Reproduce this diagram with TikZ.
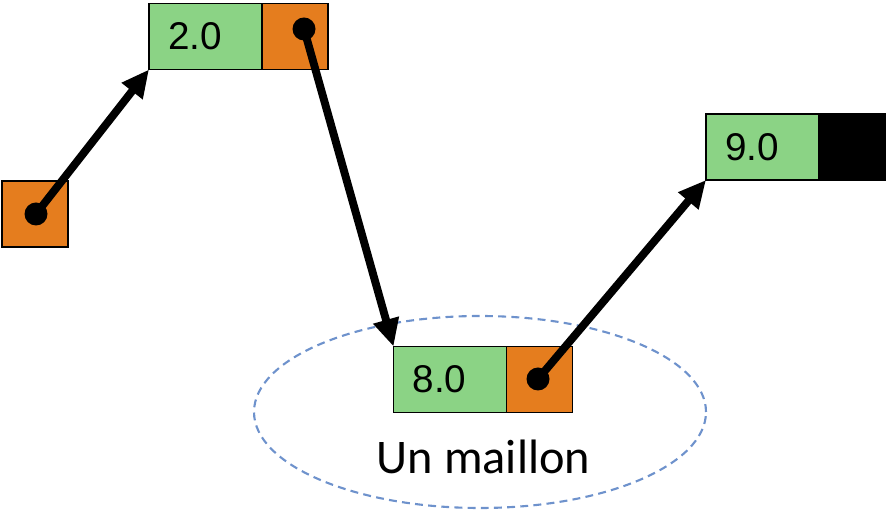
\documentclass[tikz,border=0pt]{standalone}
\usepackage{fontspec}
\setmainfont{Liberation Sans}
\newfontfamily\carlito{Carlito}
\usetikzlibrary{positioning,arrows.meta}

\definecolor{vert}{RGB}{139,211,133}
\definecolor{orangep}{RGB}{229,125,30}
\definecolor{bleup}{RGB}{110,146,204}

\tikzset{
  valeur/.style={draw, line width=0.8pt, fill=vert, outer sep=0pt, text width=1.5cm,
    inner xsep=0.38cm, minimum height=1.32cm, align=left, font=\fontsize{22}{24}\selectfont},
  pointeur/.style={draw, line width=0.8pt, fill=orangep, outer sep=0pt, minimum size=1.32cm},
  fin/.style={pointeur, fill=black},
  point/.style={circle, fill=black, inner sep=0pt, minimum size=0.46cm},
  lien/.style={line width=4.5pt, -{Triangle[length=0.55cm,width=0.5cm]}}
}

\begin{document}
\begin{tikzpicture}
        \useasboundingbox (0,0) rectangle (17.78,10.54);

        % the dashed circle round one link
        \draw[bleup, line width=1.2pt, dash pattern=on 4.5pt off 3pt] (9.60,2.30) ellipse (4.52cm and 1.92cm);
        \node[font=\carlito\fontsize{27.5}{30}\selectfont] (titre) at (9.67,1.40) {Un maillon};

        % the head and the links
        \node[pointeur] (tete) at (0.70,6.26) {};
        \node[valeur] (v1) at (4.11,9.81) {2.0};
        \node[pointeur, right=0pt of v1] (p1) {};
        \node[valeur] (v2) at (9.00,2.95) {8.0};
        \node[pointeur, right=0pt of v2] (p2) {};
        \node[valeur] (v3) at (15.25,7.60) {9.0};
        \node[fin, right=0pt of v3] (p3) {};

        % the dots where the arrows start
        \node[point] (d0) at (0.72,6.26) {};
        \node[point] (d1) at (6.08,9.96) {};
        \node[point] (d2) at (10.76,2.96) {};

        % draw the arrows
        \draw[lien] (d0.center) -- (v1.south west);
        \draw[lien] (d1.center) -- (v2.north west);
        \draw[lien] (d2.center) -- (v3.south west);

\end{tikzpicture}
\end{document}
